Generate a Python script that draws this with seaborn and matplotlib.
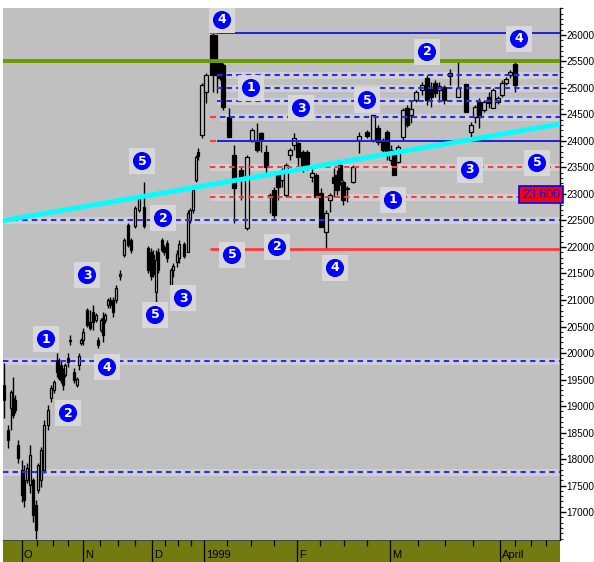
import numpy as np
import pandas as pd
import matplotlib
matplotlib.use("Agg")
import matplotlib.pyplot as plt
import seaborn as sns
from matplotlib.ticker import MultipleLocator

# ---------------- data ----------------
session_pos = [4, 8, 11, 13, 15, 18, 22, 24, 27, 30, 33, 36, 38, 41, 44, 48, 51, 54, 57, 59,
               61, 63, 65, 68, 70, 74, 77, 79, 81, 83, 87, 90, 93, 96, 98, 101, 103, 105, 108, 110,
               113, 116, 120, 124, 128, 131, 135, 139, 144, 148, 151, 153, 156, 158, 162, 164, 167, 171, 173, 177,
               179, 184, 188, 190, 193, 196, 198, 202, 206, 213, 217, 220, 223, 229, 234, 241, 247, 252, 257, 261,
               266, 270, 274, 278, 282, 286, 290, 294, 298, 303, 307, 312, 316, 321, 326, 330, 334, 337, 340, 343,
               347, 353, 359, 367, 373, 378, 383, 387, 391, 394, 398, 403, 407, 411, 416, 422, 427, 431, 435, 439,
               444, 450, 458, 466, 471, 475, 479, 484, 489, 493, 498, 502, 506, 510, 515]

opens = [19396, 18546, 18962, 19150, 19113, 18264, 17792, 17603, 17603, 17509, 17603, 17132, 17415, 17603, 17792, 18641, 19150, 19301, 19867, 19679,
         19773, 19641, 19584, 19905, 20226, 19641, 19396, 19773, 20189, 20245, 20811, 20585, 20773, 20622, 20245, 20434, 20660, 20622, 20905, 21000,
         21000, 21000, 21452, 21849, 22415, 22132, 22396, 22698, 22754, 21981, 21905, 21849, 21150, 21905, 22132, 22000, 22075, 21283, 21566, 21717,
         21792, 22056, 21905, 22509, 22698, 23264, 23792, 24113, 24924, 26000, 25453, 25471, 25434, 24453, 23736, 23453, 22358, 24000, 23981, 24151,
         23792, 22981, 23075, 23396, 23264, 22981, 23736, 23924, 23962, 23792, 23792, 23320, 23358, 23019, 22283, 22887, 23320, 23358, 23547, 23226,
         23113, 23226, 24019, 24170, 24019, 24245, 24019, 24170, 23641, 23736, 23604, 24075, 24622, 24490, 24773, 24962, 25188, 25019, 25094, 24962,
         25019, 25283, 24830, 25075, 24170, 24453, 24736, 24585, 24830, 24622, 24736, 24868, 25094, 25245, 25453]
highs = [19811, 18641, 19301, 19547, 19207, 18358, 17980, 17886, 17924, 18264, 17641, 17226, 17924, 18226, 18735, 19018, 19396, 19490, 19999, 19905,
         19867, 19716, 19811, 19999, 20340, 19716, 19547, 19999, 20283, 20471, 20849, 20811, 20905, 20754, 20302, 20660, 20773, 20754, 21037, 21056,
         21056, 21283, 21566, 22170, 22452, 22170, 22773, 22962, 23226, 22019, 21981, 21943, 21943, 21981, 22170, 22037, 22132, 21604, 21698, 21943,
         22132, 22094, 22698, 22735, 23113, 23736, 23868, 25094, 25283, 26038, 25490, 25528, 25471, 24622, 23924, 23509, 23736, 24245, 24340, 24170,
         23924, 23019, 23132, 23396, 23490, 23585, 23868, 24151, 23981, 23830, 23830, 23490, 23396, 23113, 22698, 23019, 23490, 23453, 23585, 23264,
         23151, 23547, 24170, 24207, 24490, 24302, 24056, 24207, 23924, 23773, 23924, 24622, 24679, 24773, 24962, 25113, 25245, 25113, 25151, 25113,
         25057, 25358, 25528, 25075, 24358, 24679, 24811, 24773, 24924, 25000, 24849, 25151, 25207, 25340, 25490]
lows = [18773, 18207, 18546, 18773, 18867, 17924, 17188, 17094, 17546, 17358, 16810, 16500, 17358, 17471, 17735, 18546, 19075, 19245, 19547, 19490,
        19433, 19301, 19547, 19735, 20151, 19433, 19358, 19679, 20151, 20151, 20490, 20434, 20434, 20585, 20094, 20396, 20208, 20566, 20849, 20849,
        20679, 20943, 21377, 21811, 22000, 21887, 22358, 22660, 22358, 21509, 21377, 21434, 20962, 21509, 21905, 21849, 21717, 21245, 21434, 21622,
        21698, 21792, 21905, 22452, 22641, 23226, 23641, 24056, 24717, 24924, 24906, 25151, 24585, 24075, 22452, 22887, 22320, 23981, 23792, 23792,
        23396, 22641, 22547, 22887, 23132, 22943, 23641, 23830, 23509, 23415, 23453, 23226, 22943, 22377, 21943, 22660, 22943, 22981, 23170, 22792,
        22849, 23207, 23773, 24056, 23981, 23924, 23792, 23641, 23547, 23358, 23585, 24019, 24264, 24340, 24736, 24868, 24679, 24641, 24830, 24736,
        24698, 25057, 24830, 24547, 24075, 24340, 24245, 24547, 24622, 24622, 24698, 24830, 25057, 25188, 24924]
closes = [19113, 18358, 19264, 18830, 18924, 18018, 17320, 17226, 17830, 18075, 16943, 16660, 17886, 18169, 18641, 18924, 19339, 19452, 19641, 19528,
          19490, 19396, 19773, 19830, 20245, 19490, 19509, 19943, 20245, 20396, 20528, 20471, 20585, 20716, 20151, 20622, 20340, 20716, 21000, 20905,
          20773, 21226, 21490, 22132, 22037, 21943, 22735, 22924, 22396, 21566, 21452, 21490, 21755, 21566, 21943, 21905, 21792, 21566, 21641, 21868,
          22056, 21830, 22641, 22698, 23075, 23698, 23717, 25057, 25245, 25245, 25340, 25188, 24641, 24075, 23113, 23302, 23698, 24207, 23830, 24019,
          23509, 22943, 22604, 23132, 23415, 23547, 23830, 24056, 23698, 23490, 23490, 23396, 22943, 22377, 22641, 22981, 23207, 23075, 23264, 22887,
          23094, 23509, 24094, 24094, 24490, 23981, 23830, 23792, 23830, 23358, 23886, 24585, 24302, 24603, 24924, 25057, 24773, 24830, 24905, 25038,
          24773, 25226, 25000, 24547, 24302, 24641, 24453, 24736, 24717, 24962, 24811, 25094, 25170, 25302, 25057]

# horizontal support / resistance levels
level_values = [26030, 25250, 25000, 24750, 24450, 24000, 23500, 22950, 22500, 21960, 19850, 17750]
target_level = 25510
trend_x = [3, 560]
trend_y = [22496, 24320]

# wave counts
wave_labels = ["4", "1", "3", "5", "2", "4", "5", "2", "5", "2", "4", "1", "3", "5", "3", "5", "3", "1", "4", "2"]
wave_x = [222, 251, 301, 367, 427, 519, 142, 163, 232, 277, 335, 393, 470, 537, 87, 155, 183, 46, 107, 68]
wave_y = [26283, 25000, 24622, 24773, 25679, 25925, 23622, 22547, 21849, 22000, 21604, 22887, 23453, 23585,
          21471, 20717, 21037, 20264, 19735, 18867]

price_tag = "23,600"
price_tag_level = 22990

month_labels = ["O", "N", "D", "1999", "F", "M", "April"]
month_pos = [22, 83, 152, 204, 297, 390, 500]
y_ticks = list(range(17000, 26001, 500))

# ---------------- style ----------------
sns.set_style("white")
plt.rcParams["font.family"] = ["Liberation Sans", "DejaVu Sans"]

BG = "#c0c0c0"
fig = plt.figure(figsize=(5.94, 5.62), dpi=100, facecolor="white")
ax = fig.add_axes([3 / 594, 22 / 562, 557 / 594, 532 / 562])
ax.set_facecolor(BG)
ax.set_xlim(3, 560)
ax.set_ylim(16472, 26509)

# candles
df = pd.DataFrame({"pos": session_pos, "open": opens, "high": highs, "low": lows, "close": closes})
df["w"] = np.where(df["pos"] < 200, 2.6, 4.0)
df.loc[df["open"].idxmax(), "w"] = 7.0
ax.vlines(df["pos"], df["low"], df["high"], color="black", lw=1.0, zorder=2)
up = df["close"] >= df["open"]
body_h = (df["close"] - df["open"]).abs().clip(lower=25)
body_b = df[["open", "close"]].min(axis=1)
ax.bar(df["pos"][up], body_h[up], bottom=body_b[up], width=df["w"][up],
       color=BG, edgecolor="black", linewidth=0.9, zorder=2.1)
ax.bar(df["pos"][~up], body_h[~up], bottom=body_b[~up], width=df["w"][~up],
       color="black", edgecolor="black", linewidth=0.9, zorder=2.1)
# red cap on the spike candle
top_i = df["high"].idxmax()
ax.hlines(df.loc[top_i, "high"], df.loc[top_i, "pos"] - 3.5, df.loc[top_i, "pos"] + 3.5,
          color="#ff2020", lw=1.6, zorder=2.2)

# level lines: (start, colour, style, width)
BLUE = "#2a2aff"
RED = "#ff3a3a"
dash = (0, (2.6, 2.0))
level_style = [
    (217, "#2020e0", "-", 1.4),
    (217, BLUE, dash, 1.5),
    (217, BLUE, dash, 1.5),
    (217, BLUE, dash, 1.5),
    (220, BLUE, dash, 1.5),
    (217, "#2020e0", "-", 1.4),
    (210, RED, dash, 1.5),
    (210, RED, dash, 1.5),
    (3, BLUE, dash, 1.5),
    (210, RED, "-", 2.0),
    (3, BLUE, dash, 1.5),
    (3, BLUE, dash, 1.5),
]
for lv, (x0, col, ls, lw) in zip(level_values, level_style):
    if ls != "-":
        ax.hlines(lv, x0, 560, color="#d0d0d0", lw=5, zorder=1.5)
    ax.hlines(lv, x0, 560, color=col, lw=lw, linestyles=[ls], zorder=3)
# red stubs
for lv in (level_values[4], level_values[5]):
    ax.hlines(lv, 210, 216, color=RED, lw=1.5, zorder=3)

ax.axhline(target_level, color="#6b9a00", lw=2.8, zorder=3.2)

sns.lineplot(x=trend_x, y=trend_y, color="#00ffff", lw=3.5, ax=ax, zorder=4, legend=False)

# wave count markers
wdf = pd.DataFrame({"x": wave_x, "y": wave_y, "lab": wave_labels})
sns.scatterplot(data=wdf, x="x", y="y", marker="s", s=330, color="#d8d8d8",
                edgecolor="none", ax=ax, zorder=5, legend=False)
sns.scatterplot(data=wdf, x="x", y="y", marker="o", s=170, color="#0000ff",
                edgecolor="none", ax=ax, zorder=6, legend=False)
for _, r in wdf.iterrows():
    ax.text(r["x"], r["y"], r["lab"], color="white", fontsize=9, fontweight="bold",
            ha="center", va="center", zorder=7, family=["DejaVu Sans"])

# price tag
ax.text(541, price_tag_level, price_tag, color="#0000ff", fontsize=9, ha="center", va="center",
        zorder=7, bbox=dict(boxstyle="square,pad=0.2", fc="#ff0000", ec="#0000ff", lw=1.2))

# axes styling
ax.set_xticks([])
ax.yaxis.tick_right()
ax.set_yticks(y_ticks)
ax.set_yticklabels([str(t) for t in y_ticks])
ax.yaxis.set_minor_locator(MultipleLocator(100))
ax.tick_params(axis="y", which="major", direction="out", length=4, width=1, pad=0.8,
               labelsize=7.2, colors="black", right=True, left=False)
ax.tick_params(axis="y", which="minor", direction="out", length=2.5, width=0.8, right=True, left=False)
for s in ("top", "left", "bottom"):
    ax.spines[s].set_visible(False)
ax.spines["right"].set_color("black")
ax.spines["right"].set_linewidth(1.0)
ax.set_xlabel("")
ax.set_ylabel("")

# time band
bx = fig.add_axes([3 / 594, 0, 557 / 594, 22 / 562])
bx.set_facecolor("#737a10")
bx.set_xlim(3, 560)
bx.set_ylim(0, 1)
bx.set_xticks([])
bx.set_yticks([])
for s in bx.spines.values():
    s.set_visible(False)
bx.axhline(1, color="#404040", lw=1.2)
edges = month_pos + [560 + 1]
for a, b in zip(edges[:-1], edges[1:]):
    for k in (1, 2, 3):
        bx.vlines(a + (b - a) * k / 4, 0.72, 1, color="black", lw=0.9)
bx.vlines(month_pos, 0, 1, color="black", lw=0.9)
for p, lab in zip(month_pos, month_labels):
    bx.text(p + 2, 0.3, lab, fontsize=8, color="black", ha="left", va="center")

fig.savefig("out.png", dpi=100, facecolor="white")
